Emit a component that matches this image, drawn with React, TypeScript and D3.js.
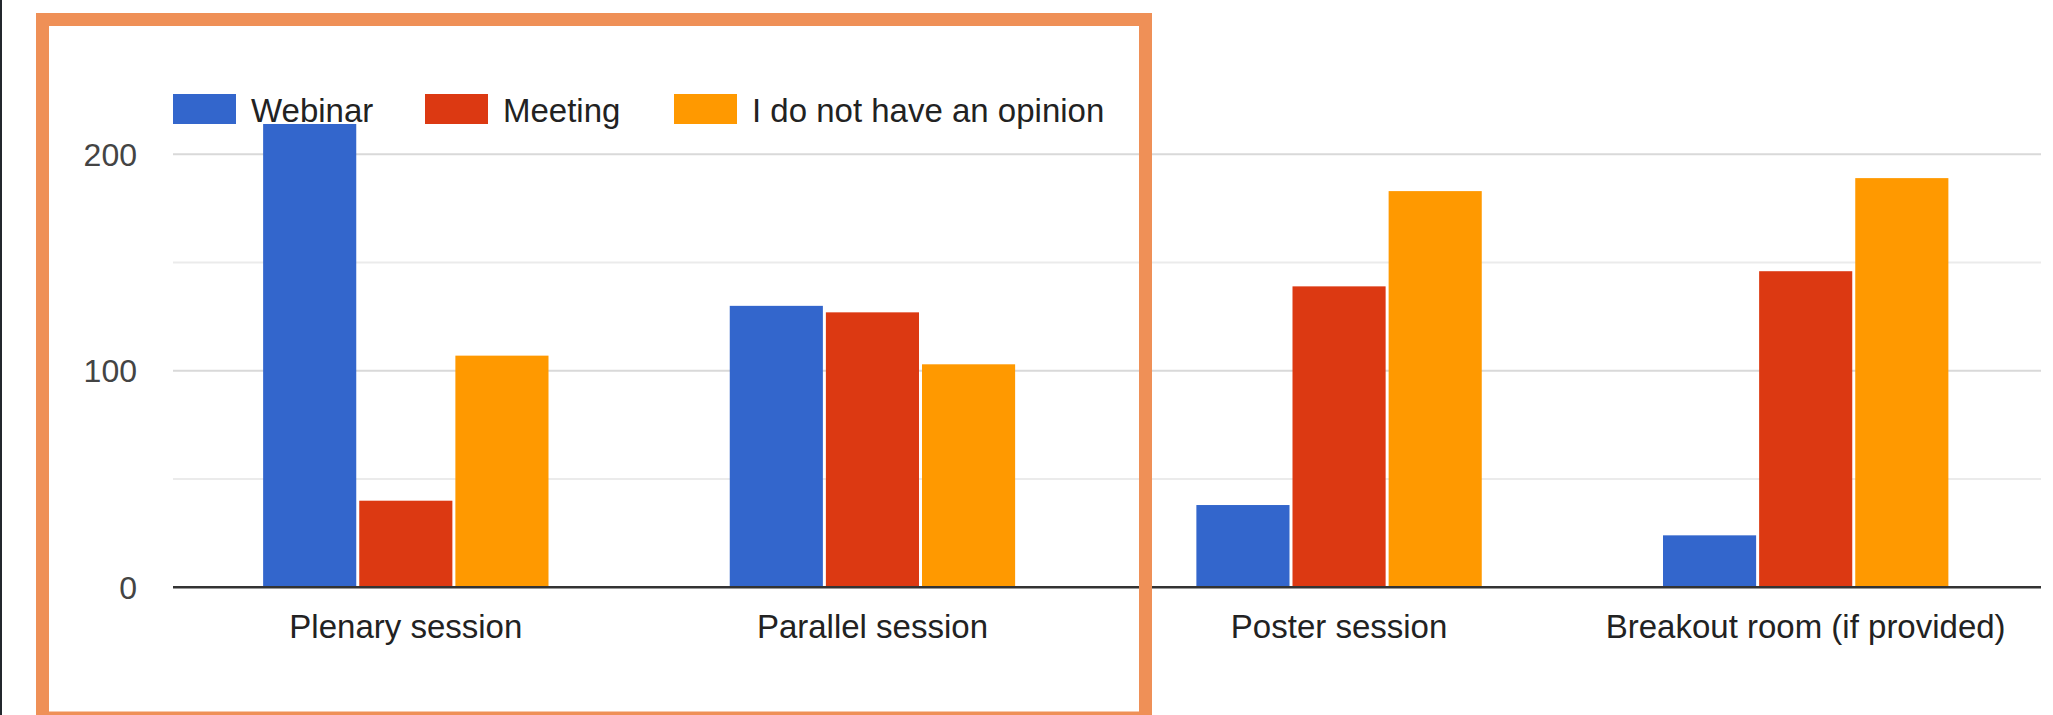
import React from "react";
import * as d3 from "d3";

const categories = ["Plenary session", "Parallel session", "Poster session", "Breakout room (if provided)"];
const seriesNames = ["Webinar", "Meeting", "I do not have an opinion"];
const webinar = [214, 130, 38, 24];
const meeting = [40, 127, 139, 146];
const noOpinion = [107, 103, 183, 189];
const seriesColors = ["#3366CC", "#DC3912", "#FF9900"];
const gridTicks = [0, 50, 100, 150, 200];
const labelTicks = [0, 100, 200];

const W = 2053;
const H = 715;
const FONT = "'Liberation Sans', Arial, Helvetica, sans-serif";

export default function App() {
  const series = [webinar, meeting, noOpinion];
  const x = d3.scaleBand<string>().domain(categories).range([172.5, 2039]).paddingInner(0.382).paddingOuter(0.191);
  const xs = d3.scaleBand<string>().domain(seriesNames).range([0, x.bandwidth()]);
  const y = d3.scaleLinear().domain([0, 200]).range([587.3, 154.3]);
  const legendX = [173, 425, 674];

  return (
    <svg width={W} height={H} style={{ position: "absolute", left: 0, top: 0, background: "#fff" }} fontFamily={FONT}>
      <rect x={0} y={0} width={W} height={H} fill="#fff" />
      <rect x={0} y={0} width={2} height={H} fill="#23272d" />
      {/* grid */}
      {gridTicks.filter((t) => t !== 0).map((t) => (
        <line key={t} x1={173} x2={2041} y1={y(t)} y2={y(t)} stroke={t % 100 === 0 ? "#d9d9d9" : "#ebebeb"} strokeWidth={2} />
      ))}
      {/* bars */}
      {categories.map((c, i) => (
        <g key={c}>
          {series.map((s, j) => {
            const bx = (x(c) as number) + (xs(seriesNames[j]) as number);
            return (
              <rect
                key={j}
                x={bx + 1.5}
                y={y(s[i])}
                width={xs.bandwidth() - 3}
                height={y(0) - y(s[i])}
                fill={seriesColors[j]}
              />
            );
          })}
        </g>
      ))}
      {/* baseline */}
      <line x1={173} x2={2041} y1={y(0)} y2={y(0)} stroke="#333" strokeWidth={2.5} />
      {/* y labels */}
      {labelTicks.map((t) => (
        <text key={t} x={137} y={y(t)} dy="0.36em" textAnchor="end" fontSize={32} fill="#444">
          {t}
        </text>
      ))}
      {/* x labels */}
      {categories.map((c) => (
        <text key={c} x={(x(c) as number) + x.bandwidth() / 2} y={638} textAnchor="middle" fontSize={33} fill="#222">
          {c}
        </text>
      ))}
      {/* legend */}
      {seriesNames.map((n, j) => (
        <g key={n}>
          <rect x={legendX[j]} y={94} width={63} height={30} fill={seriesColors[j]} />
          <text x={legendX[j] + 78} y={121.5} fontSize={33} fill="#222">
            {n}
          </text>
        </g>
      ))}
      {/* orange frame */}
      <rect x={42.5} y={19.5} width={1103} height={698.5} fill="none" stroke="#EF9057" strokeWidth={13} />
    </svg>
  );
}
